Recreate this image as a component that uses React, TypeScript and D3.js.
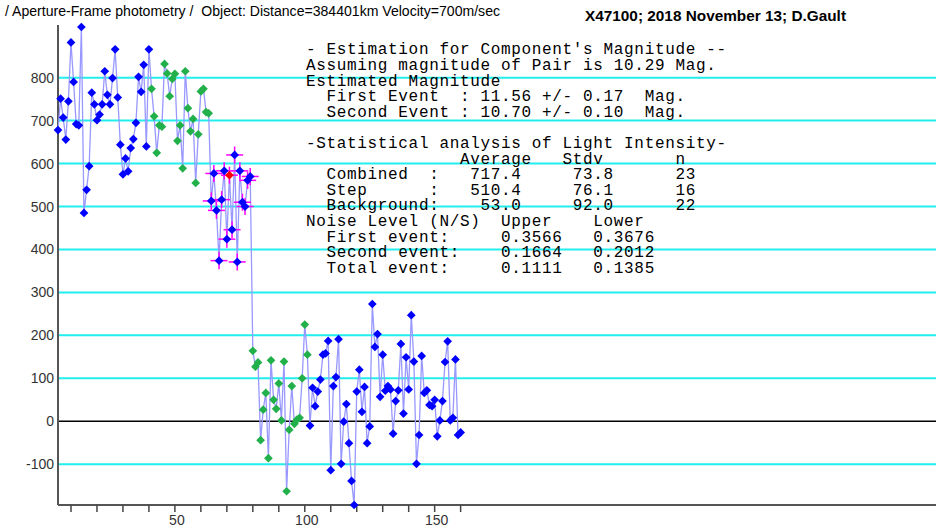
import { useRef, useEffect } from 'react';
import * as d3 from 'd3';

const FIRST_FRAME = 5;
const LAST_FRAME_ON_AXIS = 343;

// intensity per frame, in the order the analysis splits them
const preEvent = [
  678, 751, 707, 656, 745, 882, 790, 692, 689, 918, 485, 539, 594, 765, 738, 701, 714, 738,
  815, 760, 738, 799, 866, 754, 644, 575, 612, 582, 636, 657, 695, 802, 767, 830, 640, 866,
];
const combined = [
  774, 710, 625, 689, 686, 832, 810, 757, 797, 809, 653, 689, 589, 815, 729, 675, 704, 555,
  668, 768, 774, 720, 717,
];
const step = [513, 577, 491, 374, 516, 583, 424, 573, 446, 620, 371, 583, 510, 500, 561, 570];
const STEP_HIGHLIGHT = 7;
const background = [
  164, 127, 137, -44, 27, 66, -86, 142, 50, 29, 88, 2, 139, -163, -20, 82, -6, 4, 8, 100, 225, 155,
];
const postEvent = [
  -10, 78, 35, 69, 97, 155, 158, 187, -114, 82, 103, 191, -99, -1, 40, -51, -139, -195, 69, 120,
  22, 80, -51, -12, 273, 173, 203, 57, 155, 71, 82, 74, -29, 47, 72, 180, 18, 149, 74, 247, 139,
  -99, -32, 152, 66, 72, 38, 35, 50, -35, 2, 47, 138, 186, 2, 8, 144, -32, -26,
];

const Y_TICKS = [-100, 0, 100, 200, 300, 400, 500, 600, 700, 800];
const X_TICKS = [10, 20, 30, 40, 50, 60, 70, 80, 90, 100, 110, 120, 130, 140, 150, 160];
const X_LABELS = [50, 100, 150];

const TITLE_LEFT = '/ Aperture-Frame photometry /  Object: Distance=384401km Velocity=700m/sec';
const TITLE_RIGHT = 'X47100; 2018 November 13; D.Gault';

const REPORT = [
  "- Estimation for Component's Magnitude --",
  'Assuming magnitude of Pair is 10.29 Mag.',
  'Estimated Magnitude',
  '  First Event  : 11.56 +/- 0.17  Mag.',
  '  Second Event : 10.70 +/- 0.10  Mag.',
  '',
  '-Statistical analysis of Light Intensity-',
  '               Average   Stdv       n',
  '  Combined  :   717.4     73.8      23',
  '  Step      :   510.4     76.1      16',
  '  Background:    53.0     92.0      22',
  'Noise Level (N/S)  Upper    Lower',
  '  First event:     0.3566   0.3676',
  '  Second event:    0.1664   0.2012',
  '  Total event:     0.1111   0.1385',
];

const COLORS = {
  plain: '#0000ff',
  combined: '#22b04a',
  step: '#0000ff',
  background: '#22b04a',
  highlight: '#ff0000',
};

export default function App() {
  const svgRef = useRef(null);

  useEffect(() => {
    const width = 936;
    const height = 527;
    const svg = d3.select(svgRef.current);
    svg.selectAll('*').remove();

    const segments = [
      { values: preEvent, kind: 'plain' },
      { values: combined, kind: 'combined' },
      { values: step, kind: 'step' },
      { values: background, kind: 'background' },
      { values: postEvent, kind: 'plain' },
    ];
    const data: any[] = [];
    segments.forEach((s) =>
      s.values.forEach((v, i) =>
        data.push({
          frame: FIRST_FRAME + data.length,
          value: v,
          kind: s.kind,
          highlight: s.kind === 'step' && i === STEP_HIGHLIGHT,
        })
      )
    );

    const left = 58;
    const bottom = 505;
    const top = 27;

    const x = d3.scaleLinear().domain([FIRST_FRAME, LAST_FRAME_ON_AXIS]).range([left, width]);
    const y = d3
      .scaleLinear()
      .domain(d3.extent(data, (d) => d.value) as [number, number])
      .range([bottom, top]);

    svg.append('rect').attr('width', width).attr('height', height).attr('fill', '#fff');

    // grid
    svg
      .selectAll('.grid')
      .data(Y_TICKS)
      .join('line')
      .attr('class', 'grid')
      .attr('x1', left)
      .attr('x2', width)
      .attr('y1', (d) => y(d))
      .attr('y2', (d) => y(d))
      .attr('stroke', (d) => (d === 0 ? '#000' : '#22eeee'))
      .attr('stroke-width', (d) => (d === 0 ? 1.5 : 2));

    // y labels
    svg
      .selectAll('.ylab')
      .data(Y_TICKS)
      .join('text')
      .attr('class', 'ylab')
      .attr('x', left - 4)
      .attr('y', (d) => y(d) + 5)
      .attr('text-anchor', 'end')
      .attr('font-family', 'Liberation Sans, Arial, sans-serif')
      .attr('font-size', 14)
      .attr('fill', '#333')
      .text((d) => d);

    // axes
    svg
      .append('line')
      .attr('x1', left)
      .attr('x2', left)
      .attr('y1', top - 2)
      .attr('y2', bottom)
      .attr('stroke', '#555')
      .attr('stroke-width', 2);
    svg
      .append('line')
      .attr('x1', left)
      .attr('x2', width)
      .attr('y1', bottom)
      .attr('y2', bottom)
      .attr('stroke', '#555')
      .attr('stroke-width', 2);

    svg
      .selectAll('.xtick')
      .data(X_TICKS)
      .join('line')
      .attr('class', 'xtick')
      .attr('x1', (d) => x(d))
      .attr('x2', (d) => x(d))
      .attr('y1', bottom)
      .attr('y2', bottom + 7)
      .attr('stroke', '#444')
      .attr('stroke-width', 1.5);

    svg
      .selectAll('.xlab')
      .data(X_LABELS)
      .join('text')
      .attr('class', 'xlab')
      .attr('x', (d) => x(d) + 2)
      .attr('y', 525)
      .attr('text-anchor', 'middle')
      .attr('font-family', 'Liberation Sans, Arial, sans-serif')
      .attr('font-size', 14)
      .attr('fill', '#333')
      .text((d) => d);

    // titles
    svg
      .append('text')
      .attr('x', 5)
      .attr('y', 16)
      .attr('font-family', 'Liberation Sans, Arial, sans-serif')
      .attr('font-size', 14)
      .attr('textLength', 495)
      .attr('lengthAdjust', 'spacingAndGlyphs')
      .style('white-space', 'pre')
      .text(TITLE_LEFT);
    svg
      .append('text')
      .attr('x', 585)
      .attr('y', 21)
      .attr('font-family', 'Liberation Sans, Arial, sans-serif')
      .attr('font-size', 14)
      .attr('font-weight', 'bold')
      .attr('textLength', 261)
      .attr('lengthAdjust', 'spacingAndGlyphs')
      .text(TITLE_RIGHT);

    // light curve
    const line = d3
      .line<any>()
      .x((d) => x(d.frame))
      .y((d) => y(d.value));
    svg
      .append('path')
      .datum(data)
      .attr('d', line)
      .attr('fill', 'none')
      .attr('stroke', '#9898ff')
      .attr('stroke-width', 1.3);

    // step crosshairs
    const stepPts = data.filter((d) => d.kind === 'step');
    const cross = svg.append('g');
    cross
      .selectAll('.ch')
      .data(stepPts)
      .join('line')
      .attr('x1', (d) => x(d.frame) - 8.5)
      .attr('x2', (d) => x(d.frame) + 8.5)
      .attr('y1', (d) => y(d.value))
      .attr('y2', (d) => y(d.value))
      .attr('stroke', '#ff00ff')
      .attr('stroke-width', 1.5);
    cross
      .selectAll('.cv')
      .data(stepPts)
      .join('line')
      .attr('x1', (d) => x(d.frame))
      .attr('x2', (d) => x(d.frame))
      .attr('y1', (d) => y(d.value) - 8.5)
      .attr('y2', (d) => y(d.value) + 8.5)
      .attr('stroke', '#ff00ff')
      .attr('stroke-width', 1.5);

    // markers
    const diamond = d3.symbol().type(d3.symbolSquare).size(38);
    svg
      .append('g')
      .selectAll('path')
      .data(data)
      .join('path')
      .attr('d', diamond)
      .attr('transform', (d) => `translate(${x(d.frame)},${y(d.value)}) rotate(45)`)
      .attr('fill', (d) => (d.highlight ? COLORS.highlight : COLORS[d.kind]));

    // report text
    svg
      .append('g')
      .selectAll('text')
      .data(REPORT)
      .join('text')
      .attr('x', 306)
      .attr('y', (_, i) => 54.3 + i * 15.6)
      .attr('font-family', 'Liberation Mono, Courier New, monospace')
      .attr('font-size', 16)
      .attr('letter-spacing', 0.66)
      .attr('fill', '#000')
      .style('white-space', 'pre')
      .text((d) => d);
  }, []);

  return (
    <div style={{ position: 'fixed', left: 0, top: 0 }}>
      <svg ref={svgRef} width={936} height={527} style={{ display: 'block' }} />
    </div>
  );
}
